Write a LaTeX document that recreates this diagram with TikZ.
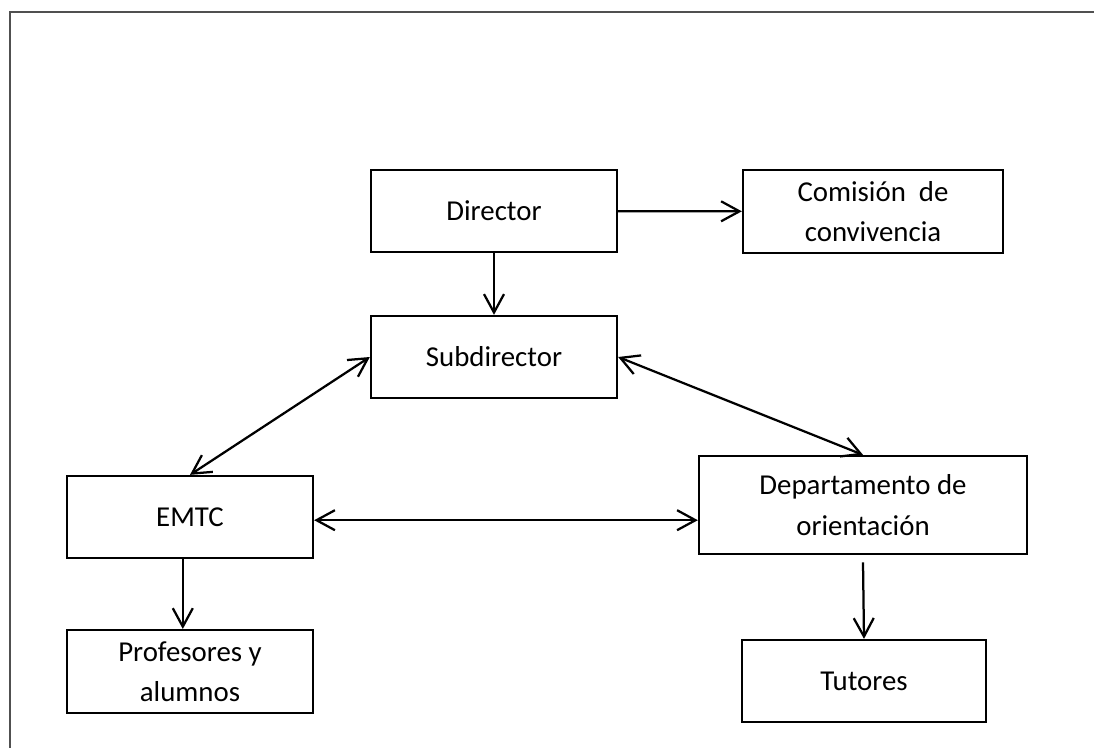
\documentclass[tikz,border=0pt]{standalone}
\usepackage{fontspec}
\setmainfont{Carlito}
\usepackage{xcolor}
\usetikzlibrary{arrows.meta}

\definecolor{framegray}{HTML}{505050}

\begin{document}
\begin{tikzpicture}[
    x=0.025cm, y=-0.025cm,
    >={Straight Barb[length=0.46cm, width=0.5cm]},
    box/.style={rectangle, draw, line width=1.6pt, minimum width=6.15cm, minimum height=2.05cm, align=center, inner sep=0pt, font=\fontsize{20.5}{28.6}\selectfont},
    arrow/.style={->, line width=1.6pt}
]

\useasboundingbox (0,0) rectangle (1097,748);

% outer frame
\draw[framegray, line width=1.5pt] (10,748) -- (10,12) -- (1094,12);

\node[box] (Director) at (494,211) {Director};
\node[box, minimum width=6.5cm, minimum height=2.07cm] (Comision) at (873,211.5) {Comisión\ \ de\\convivencia};
\node[box] (Sub) at (494,357) {Subdirector};
\node[box] (EMTC) at (190,517) {EMTC};
\node[box, minimum width=8.2cm, minimum height=2.45cm] (Dept) at (863,505) {Departamento de\\orientación};
\node[box, minimum height=2.07cm] (Prof) at (190,671.5) {Profesores y\\alumnos};
\node[box, minimum width=6.1cm] (Tutores) at (864,681) {Tutores};

\draw[arrow] (Director) -- (Comision);
\draw[arrow] (Director) -- (Sub);
\draw[arrow, <->] (Sub.west) -- (EMTC.north);
\draw[arrow, <->] (Sub.east) -- (Dept.north);
\draw[arrow, <->] ([yshift=-0.08cm]EMTC.east) -- ([yshift=-0.08cm]EMTC.east -| Dept.west);
\draw[arrow] ([xshift=-0.18cm]EMTC.south) -- ([xshift=-0.18cm]Prof.north);
\draw[arrow] ([yshift=-0.18cm]Dept.south) -- (Tutores.north);

\end{tikzpicture}
\end{document}
